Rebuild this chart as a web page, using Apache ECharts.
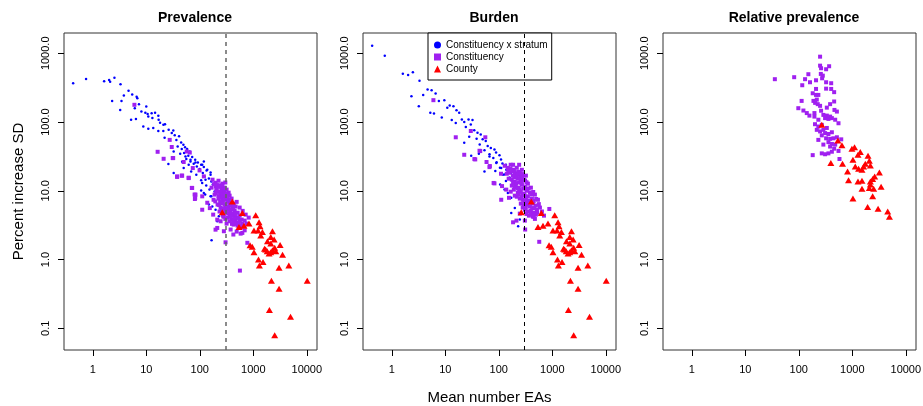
<!DOCTYPE html>
<html>
<head>
<meta charset="utf-8">
<script src="https://cdn.jsdelivr.net/npm/echarts@6/dist/echarts.min.js"></script>
<style>
  html, body { margin: 0; padding: 0; background: #fff; }
  #chart { width: 923px; height: 406px; }
</style>
</head>
<body>
<div id="chart"></div>
<script>
// panel titles and axis ticks
const panelTitles = ['Prevalence', 'Burden', 'Relative prevalence'];
const xTicks = [1, 10, 100, 1000, 10000];
const yTicks = [0.1, 1, 10, 100, 1000];
const cutoffEAs = 300;

// Prevalence: constituency x stratum  [mean EAs, % increase SD]
const prevStratum = [
  [0.43,367],[0.75,424],[1.63,393],[2.02,410],[2.11,384],[2.54,442],[3.3,355],[4.66,286],[5.46,251],[6.6,234],
  [6.8,222],[3.81,243],[2.3,203],[3.44,203],[3.25,150],[7.3,182],[10,168],[6.1,159],[8.1,142],[9.6,137],
  [10.6,131],[12.6,134],[14.6,137],[16.8,123],[10.9,120],[13,114],[6.4,111],[5.2,108],[17,108],[18.1,98],
  [20.9,91],[22.4,93],[8.8,86],[10.9,80],[13.5,82],[16.8,74],[20.8,74],[26.2,77],[32,75],[29.9,69],
  [34,64],[41,62],[22,59],[36.5,55],[44.8,50.5],[49.4,46.7],[38.6,44],[53,43],[46,40.5],[58,40.5],
  [65,37.3],[51,35.4],[61,32.4],[72,31],[56,28.9],[82,28.3],[67,26.7],[92,25.8],[77,24.7],[106,23.9],
  [46.8,26.4],[25.9,24.5],[88,22.6],[119,22.1],[99,20.7],[134,19.8],[69,19.1],[114,18.1],[159,18.5],[86,17.1],
  [122,16.2],[148,15.1],[106,14.2],[164,13.7],[175,12.3],[132,11.9],[152,10.4],[189,9.8],[106,10.1],[126,8.8],
  [164,8.3],[32.5,37.3],[43,34.6],[54,31.6],[67,28.3],[83,25.8],[111,23.9],[119,26.7],[50,21.4],[62,23.9],
  [138,20.2],[159,17.1],[171,14.5],[128,14.5],[111,13],[197,12.3],[32.5,18.1],[119,9.3],[159,8.3],[183,7.4],
  [148,6.3],[171,5.9],[197,5.3],[166,1.9],[227,4.25],[212,3.6]
];

// Prevalence: constituency
const prevConst = [
  [6.0,178],[16.3,36.9],[21.1,29.2],[31.2,29.9],[27.4,55],[29.9,43.3],[50,26.2],[57,37.3],[65,36],[74,21.4],
  [37.7,15.9],[46,16.6],[62,15.5],[99,19.8],[119,16.2],[71,11],[80,8.8],[82,7.9],[111,8.3],[31.8,29.9],
  [37.7,16.2],[46.8,16.6],[62,15.3],[72,11],[83,8.8],[81,7.6],[111,5.3],[138,6.7],[154,5.6],[178,4.5],
  [212,3.8],[212,2.88],[282,2.58],[303,1.78],[562,0.69],[424,2.31],[624,2.44],[774,1.75],[690,2.66],[197,2.72],
  [245,3.6],[275,4.25],
  [173,14.5],[197,13.1],[224,14.0],[245,11.9],[267,12.7],[291,11.1],[206,10.4],[234,9.7],[279,10.0],[317,10.4],
  [346,9.4],[255,8.5],[303,8.2],[361,8.5],[393,7.7],[224,7.7],[267,7.2],[331,6.9],[377,6.7],[429,6.5],
  [291,6.3],[346,5.9],[411,5.7],[468,5.9],[317,5.3],[377,5.0],[448,5.1],[510,4.8],[361,4.5],[429,4.35],
  [489,4.07],[556,4.35],[393,3.81],[468,3.68],[532,3.44],[606,3.81],[429,3.22],[510,3.11],[580,2.91],[661,3.11],
  [331,4.07],[303,4.8],[245,5.7],[215,6.3],[189,8.8],[181,7.4],[166,11.1],[489,6.9],[556,5.7],[633,5.1],
  [720,4.5],[690,3.68],[752,3.33],[820,4.07],[317,3.33],[267,4.5],[234,5.0],[377,2.73],[489,2.55],[580,2.38],
  [185,12.5],[200,11.5],[215,12.1],[230,11.4],[255,10.8],[270,9.9],[290,9.5],[310,9.0],[330,8.8],[200,9.2],
  [240,8.9],[280,8.7],[320,7.8],[350,7.5],[260,7.9],[290,7.4],[240,6.9],[270,6.6],[300,6.0],[360,6.3],
  [400,6.1],[330,5.6],[280,5.5],[360,5.3],[420,5.4],[300,4.95],[340,4.7],[400,4.6],[460,4.6],[380,4.2],
  [450,3.95],[520,4.05],[420,3.55],[560,3.7],[470,3.3],[550,3.05],[620,3.3],[360,3.6],[400,3.3],[300,3.9],
  [205,9.9],[225,8.3],[260,12.0],[300,13.2],[195,7.0],[230,6.2],[255,5.2],[280,4.2]
];

// County (same in Prevalence and Burden)
const county = [
  [405,7.0],[263,4.86],[624,4.76],[1109,4.4],[1280,3.48],[830,3.33],[670,3.11],[540,2.98],[1336,3.04],[1030,2.64],
  [1225,2.64],[1480,2.52],[2280,2.58],[1377,2.23],[2120,2.13],[2450,1.95],[1840,1.84],[2120,1.71],[3170,1.63],[870,1.61],
  [955,1.53],[1620,1.44],[2510,1.48],[1820,1.32],[2120,1.28],[2280,1.36],[1030,1.28],[3520,1.17],[1250,1.0],[1520,0.92],
  [1300,0.82],[4610,0.82],[3030,0.76],[2180,0.49],[10180,0.49],[3030,0.376],[2000,0.184],[4960,0.147],[2510,0.079],[1700,1.40],
  [1970,1.22],[2630,1.32]
];

// Burden: constituency x stratum
const burdenStratum = [
  [0.43,1290],[0.74,923],[1.61,506],[2.02,484],[2.48,530],[3.3,400],[4.67,297],[5.55,290],[6.6,259],[3.87,248],
  [2.33,238],[3.2,170],[7.6,203],[9.6,208],[12.1,174],[14.2,170],[10.9,161],[16.2,149],[5.25,136],[6.15,133],
  [8.6,116],[18.2,136],[20.4,109],[13.2,107],[15.7,97],[22.6,100],[27.2,109],[30,92],[24.2,85],[32.3,107],
  [34.8,76],[40,70],[46,66],[28,61],[38.5,57],[50,56],[57,53],[22.6,50],[44,47],[62,45],
  [71,42],[54,39],[83,40],[89,36],[67,34],[103,33],[79,30],[110,28.6],[91,26],[117,25],
  [136,24],[105,21.6],[147,20.5],[86,19.4],[170,18.3],[127,17.3],[158,15.5],[136,13.9],[30.5,32.4],[42.4,34.6],
  [54,19.1],[67,31.6],[90,25.3],[111,21.4],[138,20.2],[119,17.1],[160,15.3],[106,12.3],[128,10.4],[148,9.3],
  [171,7.9],[171,4.76],[230,3.04],[247,3.81],[199,5.6]
];

// Burden: constituency
const burdenConst = [
  [6.0,208],[15.7,60],[22.6,33.4],[30,74],[45,37.8],[56,60],[36.3,28.6],[59,26.2],[68,22.9],[110,17.7],
  [83,12.8],[115,11.7],[35,28.9],[43.6,38.2],[67,22.1],[80,13],[111,7.4],[138,10.4],[155,7.9],[185,3.48],
  [214,3.68],[311,2.73],[570,1.81],[473,3.9],[699,4.35],[879,5.44],[428,4.76],[307,3.68],[185,23.9],[240,23.9],
  [129,23.1],[147,21.6],[167,23.9],[191,20.2],[217,21.6],[160,18.3],[183,16.6],[208,17.7],[237,18.9],[258,16.6],
  [175,14.5],[199,13.6],[227,15.0],[258,14.0],[294,14.5],[208,11.9],[237,11.1],[270,12.3],[307,11.5],[350,12.7],
  [191,10.4],[227,9.4],[258,9.7],[294,9.1],[335,10.0],[381,9.4],[217,8.2],[247,7.7],[281,7.4],[321,7.9],
  [365,7.2],[416,7.7],[258,6.5],[294,6.1],[335,6.3],[381,5.9],[434,6.5],[494,6.1],[307,5.3],[350,5.0],
  [398,5.1],[453,4.8],[516,5.3],[587,5.7],[365,4.35],[434,4.21],[494,4.5],[175,11.9],[153,15.0],[141,17.7],
  [270,20.2],[321,16.6],[398,11.1],[473,8.8],[539,7.4],[247,4.65],[640,5.0],[199,8.5],[167,9.7],
  [150,19.5],[165,20.8],[180,19.2],[200,18.7],[225,17.4],[250,18.0],[280,17.5],[195,15.8],[215,15.7],[245,15.3],
  [275,15.5],[310,14.1],[185,13.0],[210,12.9],[240,13.2],[265,13.0],[330,13.3],[200,11.3],[225,10.9],[285,10.8],
  [320,10.6],[360,10.8],[240,10.2],[275,8.9],[305,8.6],[350,8.3],[410,8.9],[235,8.8],[265,8.1],[300,6.9],
  [335,7.1],[390,6.7],[450,7.1],[280,5.7],[320,5.7],[420,5.6],[460,5.6],[400,4.55],[520,4.8],[330,4.6],
  [450,4.2],[560,6.4],[500,7.6],[440,9.6]
];

// Relative prevalence: constituency
const relConst = [
  [35.7,420],[82,449],[131,420],[151,496],[116,343],[162,379],[210,405],[250,893],[250,661],[261,606],
  [324,586],[369,648],[258,501],[281,473],[273,433],[324,379],[403,367],[210,303],[324,306],[403,303],
  [458,272],[182,262],[210,248],[232,248],[113,203],[188,203],[217,212],[202,190],[250,172],[334,162],
  [385,182],[458,199],[98,159],[122,147],[141,135],[158,124],[196,135],[261,146],[464,150],[515,142],
  [288,127],[334,124],[385,120],[310,114],[358,111],[415,114],[479,108],[552,96],[201,93],[232,86],
  [269,91],[217,77],[250,73],[288,77],[334,82],[310,69],[358,67],[415,71],[269,64],[324,58],
  [385,57],[445,58],[515,60],[232,55],[621,56],[358,51],[415,48],[288,47],[479,47],[385,44],
  [458,41],[552,38],[415,37],[358,35],[269,35],[310,34],[182,33],[576,29],[226,182],[196,120],[232,108]
];

// Relative prevalence: county
const relCounty = [
  [269,91],[538,54],[640,46],[397,25.3],[656,24.7],[984,40.9],[1100,43],[1410,36.6],[1277,33.4],[1967,32.3],
  [1028,28.3],[2080,27.4],[1750,24.7],[2174,23.4],[1136,22.6],[1310,20.9],[1517,20.2],[1626,22.6],[815,19.1],[3206,18.5],
  [2619,16.2],[2400,14.8],[2174,13.7],[1277,13.7],[1517,14.0],[851,14.2],[3450,11.4],[2080,11],[2507,10.7],[1517,10.7],
  [2400,8.3],[1028,7.7],[1933,5.8],[3033,5.5],[4590,5.0],[4940,4.2],[2174,12.3]
];

(function () {
  const font = '"Liberation Sans", Arial, sans-serif';
  const chart = echarts.init(document.getElementById('chart'));

  const gridLefts = [64, 363, 663];
  const grids = gridLefts.map(l => ({
    left: l, top: 33, width: 253, height: 317,
    outerBoundsMode: 'none', containLabel: false,
    show: true, borderColor: '#333', borderWidth: 1, backgroundColor: 'transparent'
  }));

  const xAxes = gridLefts.map((_, i) => ({
    type: 'log', logBase: 10, gridIndex: i, min: 0.29, max: 15500,
    axisLine: { show: false },
    splitLine: { show: false },
    axisTick: { customValues: xTicks, length: 6, lineStyle: { color: '#000' } },
    axisLabel: { customValues: xTicks, margin: 14, fontSize: 11, color: '#000', fontFamily: font,
      formatter: v => String(Math.round(v)) },
    name: i === 1 ? 'Mean number EAs' : '',
    nameLocation: 'middle', nameGap: 40,
    nameTextStyle: { fontSize: 15, color: '#000', fontFamily: font }
  }));

  const yAxes = gridLefts.map((_, i) => ({
    type: 'log', logBase: 10, gridIndex: i, min: 0.0483, max: 1973,
    axisLine: { show: false },
    splitLine: { show: false },
    axisTick: { customValues: yTicks, length: 6, lineStyle: { color: '#000' } },
    axisLabel: { customValues: yTicks, rotate: 90, margin: 13, fontSize: 11, color: '#000', fontFamily: font,
      formatter: v => v.toFixed(1) },
    name: i === 0 ? 'Percent increase SD' : '',
    nameLocation: 'middle', nameGap: 38,
    nameTextStyle: { fontSize: 15, color: '#000', fontFamily: font }
  }));

  function dots(data, i, extra) {
    return Object.assign({
      name: 'Constituency x stratum', type: 'scatter', xAxisIndex: i, yAxisIndex: i,
      data: data, symbol: 'circle', symbolSize: 2.5, itemStyle: { color: '#0000ff', opacity: 1 }
    }, extra || {});
  }
  function squares(data, i) {
    return {
      name: 'Constituency', type: 'scatter', xAxisIndex: i, yAxisIndex: i,
      data: data, symbol: 'rect', symbolSize: 4, itemStyle: { color: '#a020f0', opacity: 1 }
    };
  }
  function triangles(data, i) {
    return {
      name: 'County', type: 'scatter', xAxisIndex: i, yAxisIndex: i,
      data: data, symbol: 'triangle', symbolSize: [7, 6], itemStyle: { color: '#ff0000', opacity: 1 }
    };
  }
  function cutLine(color, width) {
    return {
      markLine: {
        silent: true, symbol: 'none', label: { show: false },
        lineStyle: { type: [4, 4], color: color, width: width },
        data: [{ xAxis: cutoffEAs }]
      }
    };
  }

  const option = {
    animation: false,
    textStyle: { fontFamily: font },
    title: panelTitles.map((t, i) => ({
      text: t, left: gridLefts[i] + 126, top: 6, textAlign: 'center',
      textStyle: { fontSize: 14, fontWeight: 'bold', color: '#000', fontFamily: font }
    })),
    legend: {
      orient: 'vertical', left: 428, top: 33,
      padding: [6, 4, 5, 6], itemGap: 0, itemWidth: 7, itemHeight: 7,
      backgroundColor: '#fff', borderColor: '#000', borderWidth: 1, borderRadius: 0,
      selectedMode: false,
      textStyle: { fontSize: 10, lineHeight: 12, color: '#000', fontFamily: font },
      data: [
        { name: 'Constituency x stratum', icon: 'circle' },
        { name: 'Constituency', icon: 'rect' },
        { name: 'County', icon: 'triangle' }
      ]
    },
    grid: grids,
    xAxis: xAxes,
    yAxis: yAxes,
    series: [
      dots(prevStratum, 0, cutLine('#666', 1.5)),
      squares(prevConst, 0),
      triangles(county, 0),
      dots(burdenStratum, 1, cutLine('#000', 1)),
      squares(burdenConst, 1),
      triangles(county, 1),
      squares(relConst, 2),
      triangles(relCounty, 2)
    ]
  };

  chart.setOption(option);
})();
</script>
</body>
</html>
